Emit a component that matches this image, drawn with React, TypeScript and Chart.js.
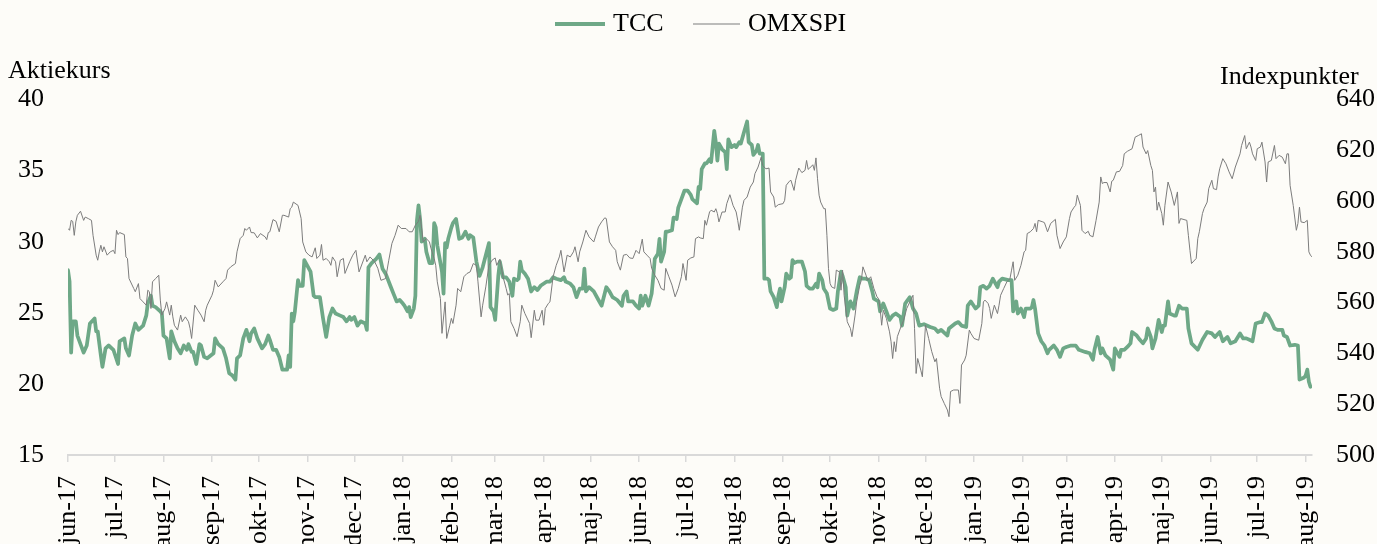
import React, { useEffect, useRef } from "react";
import { Chart, registerables } from "chart.js";

Chart.register(...registerables);

// x-axis month tick labels (first tick = 1 June 2017)
const monthLabels = [
  "jun-17", "jul-17", "aug-17", "sep-17", "okt-17", "nov-17", "dec-17",
  "jan-18", "feb-18", "mar-18", "apr-18", "maj-18", "jun-18", "jul-18",
  "aug-18", "sep-18", "okt-18", "nov-18", "dec-18", "jan-19", "feb-19",
  "mar-19", "apr-19", "maj-19", "jun-19", "jul-19", "aug-19",
];

// TCC share price – days since 2017-06-01
const tccDay = [
  0, 1, 2, 3, 5, 6, 10, 12, 14, 17,
  18, 19, 21, 22, 24, 26, 29, 32, 33, 36,
  37, 39, 41, 43, 45, 48, 50, 51, 53, 54,
  56, 59, 60, 61, 63, 65, 66, 68, 70, 72,
  74, 76, 77, 79, 80, 82, 84, 85, 87, 89,
  93, 94, 96, 99, 101, 103, 105, 107, 108, 110,
  112, 114, 116, 117, 119, 121, 124, 126, 128, 129,
  131, 133, 135, 137, 140, 141, 142, 143, 144, 145,
  147, 148, 150, 151, 153, 155, 157, 158, 161, 163,
  165, 167, 169, 171, 174, 176, 178, 180, 181, 183,
  185, 187, 190, 191, 192, 194, 197, 199, 201, 203,
  206, 208, 210, 212, 214, 215, 217, 218, 219, 221,
  222, 223, 224, 225, 226, 228, 229, 231, 233, 234,
  235, 236, 239, 240, 241, 242, 243, 245, 246, 248,
  250, 252, 254, 256, 257, 259, 261, 263, 265, 267,
  269, 270, 272, 273, 275, 276, 278, 280, 282, 284,
  285, 287, 288, 289, 290, 292, 294, 296, 298, 300,
  302, 306, 308, 310, 312, 315, 317, 318, 321, 323,
  325, 327, 329, 330, 331, 333, 336, 339, 341, 344,
  346, 348, 351, 354, 355, 357, 358, 361, 363, 365,
  366, 367, 369, 371, 373, 374, 375, 377, 378, 379,
  381, 382, 383, 386, 387, 389, 390, 392, 394, 396,
  398, 399, 402, 403, 404, 405, 407, 408, 410, 411,
  413, 414, 415, 416, 418, 420, 421, 422, 424, 426,
  427, 429, 430, 432, 434, 435, 437, 438, 440, 441,
  442, 444, 445, 447, 448, 449, 451, 453, 454, 455,
  456, 458, 459, 461, 462, 463, 464, 466, 469, 471,
  472, 474, 476, 478, 479, 480, 482, 483, 485, 487,
  489, 491, 492, 494, 495, 497, 498, 500, 502, 504,
  506, 508, 510, 512, 514, 515, 518, 519, 521, 523,
  525, 527, 529, 532, 533, 535, 536, 538, 540, 542,
  544, 547, 551, 554, 556, 558, 562, 563, 567, 569,
  571, 574, 575, 577, 580, 582, 583, 585, 587, 589,
  591, 594, 595, 597, 601, 603, 604, 606, 607, 609,
  611, 612, 615, 616, 617, 618, 620, 622, 624, 626,
  627, 630, 632, 634, 636, 638, 641, 644, 646, 650,
  653, 655, 656, 658, 660, 661, 663, 666, 668, 669,
  672, 673, 675, 677, 679, 680, 683, 685, 687, 689,
  690, 692, 693, 695, 697, 699, 700, 701, 703, 704,
  707, 708, 710, 712, 715, 716, 718, 722, 725, 728,
  731, 733, 736, 738, 741, 743, 746, 749, 751, 753,
  755, 757, 759, 762, 763, 765, 767, 769, 771, 773,
  776, 777, 779, 781, 784, 786, 787, 790, 791, 792,
  793, 794,
];
const tccValue = [
  28.0, 27.2, 22.2, 24.4, 24.4, 23.4, 22.2, 22.7, 24.25, 24.6,
  23.7, 23.7, 22.0, 21.2, 22.5, 22.7, 22.4, 21.4, 23.0, 23.2,
  22.5, 22.0, 23.4, 24.25, 23.8, 24.1, 24.8, 25.65, 26.2, 25.5,
  25.4, 25.1, 24.95, 23.4, 23.2, 21.8, 23.7, 23.0, 22.5, 22.15,
  22.7, 22.4, 22.8, 22.25, 22.25, 21.4, 22.8, 22.7, 21.9, 21.8,
  22.15, 23.2, 22.8, 22.5, 21.8, 20.75, 20.6, 20.3, 21.8, 22.0,
  23.2, 23.8, 23.0, 23.55, 23.9, 23.2, 22.5, 22.8, 23.4, 23.1,
  22.4, 22.4, 21.9, 21.0, 21.0, 22.0, 21.2, 24.95, 24.4, 25.1,
  27.3, 26.9, 26.9, 28.7, 28.3, 27.9, 26.2, 26.1, 26.1, 24.6,
  23.3, 24.7, 25.3, 24.95, 24.8, 24.7, 24.4, 24.7, 24.5, 24.7,
  24.1, 24.4, 24.25, 23.8, 28.2, 28.5, 28.8, 29.1, 28.1, 27.75,
  26.9, 26.35, 25.8, 25.9, 25.65, 25.5, 25.1, 25.4, 24.7, 25.3,
  26.2, 31.5, 32.55, 31.6, 30.0, 30.2, 29.3, 28.5, 28.5, 31.3,
  31.0, 29.75, 27.9, 26.35, 29.9, 29.6, 30.2, 31.0, 31.3, 31.6,
  30.2, 30.3, 30.7, 30.2, 30.45, 30.3, 28.6, 27.6, 28.2, 29.05,
  29.9, 25.4, 25.1, 24.5, 27.6, 28.6, 27.5, 27.5, 27.2, 26.2,
  27.4, 27.3, 27.4, 28.6, 28.0, 27.75, 27.4, 26.5, 26.8, 26.6,
  26.9, 27.2, 27.2, 27.5, 27.4, 27.3, 27.5, 27.2, 27.05, 26.8,
  26.1, 26.7, 26.7, 28.1, 26.5, 26.8, 26.5, 25.9, 25.5, 26.8,
  26.5, 26.1, 25.9, 25.5, 26.2, 26.5, 25.8, 25.8, 25.5, 25.3,
  26.2, 25.5, 26.2, 25.5, 26.35, 27.5, 28.8, 29.15, 30.2, 28.6,
  29.3, 30.7, 30.7, 30.8, 31.7, 31.6, 32.4, 33.0, 33.6, 33.6,
  33.3, 33.0, 32.7, 33.85, 33.7, 35.1, 35.5, 35.5, 35.8, 35.6,
  37.8, 37.0, 35.7, 36.9, 36.5, 36.3, 35.1, 37.2, 36.65, 36.8,
  36.65, 37.0, 36.9, 37.7, 38.45, 37.0, 36.8, 36.1, 36.4, 36.8,
  36.2, 36.2, 27.4, 27.4, 27.3, 26.5, 26.1, 25.4, 26.2, 26.7,
  25.8, 26.8, 27.75, 27.4, 27.5, 28.7, 28.5, 28.6, 28.6, 27.9,
  26.9, 26.7, 26.7, 27.05, 26.8, 27.75, 27.3, 26.7, 26.35, 25.3,
  25.2, 25.3, 26.5, 27.9, 27.6, 26.8, 24.8, 25.8, 25.3, 26.5,
  27.5, 27.4, 27.4, 27.3, 26.5, 26.0, 25.8, 25.1, 25.65, 25.1,
  24.5, 24.8, 24.95, 24.7, 24.1, 25.65, 25.8, 26.1, 25.3, 24.95,
  24.1, 24.2, 24.0, 23.9, 23.65, 23.8, 23.4, 23.9, 24.25, 24.35,
  24.1, 24.0, 25.5, 25.8, 25.3, 25.5, 26.8, 26.9, 26.7, 26.9,
  27.4, 26.8, 27.2, 27.4, 27.3, 27.3, 25.1, 25.8, 24.95, 25.3,
  24.7, 25.3, 25.3, 25.4, 25.9, 25.3, 23.55, 23.0, 22.7, 22.15,
  22.4, 22.7, 22.4, 21.9, 22.5, 22.6, 22.7, 22.7, 22.4, 22.25,
  22.15, 21.7, 22.4, 23.3, 22.15, 22.5, 22.0, 21.7, 21.0, 22.5,
  21.9, 22.4, 22.4, 22.6, 22.85, 23.65, 23.4, 23.1, 22.85, 23.2,
  23.9, 23.3, 22.5, 23.2, 24.5, 23.65, 24.1, 24.1, 25.8, 24.95,
  24.8, 24.8, 25.5, 25.3, 25.3, 23.9, 22.85, 22.4, 23.1, 23.65,
  23.55, 23.3, 23.65, 23.0, 23.3, 22.85, 23.0, 23.55, 23.2, 23.2,
  23.1, 23.0, 24.25, 24.35, 24.35, 24.95, 24.8, 24.4, 23.9, 23.8,
  23.8, 23.4, 23.3, 22.7, 22.75, 22.7, 20.3, 20.45, 20.6, 21.0,
  20.15, 19.8,
];

// OMXSPI index – days since 2017-06-01
const omxDay = [
  0, 1, 2, 3, 4, 5, 6, 8, 10, 11,
  13, 15, 16, 18, 19, 20, 21, 22, 23, 25,
  27, 29, 30, 31, 32, 33, 36, 37, 38, 39,
  42, 43, 45, 46, 48, 50, 51, 52, 53, 54,
  56, 58, 59, 60, 62, 63, 65, 66, 67, 68,
  70, 72, 73, 75, 77, 78, 79, 81, 83, 85,
  87, 88, 89, 92, 93, 94, 96, 99, 101, 102,
  104, 107, 108, 110, 112, 113, 114, 116, 117, 119,
  121, 123, 126, 127, 128, 129, 131, 133, 135, 137,
  138, 141, 142, 143, 144, 147, 149, 150, 152, 154,
  156, 158, 159, 161, 162, 163, 165, 167, 168, 169,
  171, 172, 174, 176, 177, 180, 182, 184, 186, 190,
  191, 193, 196, 198, 200, 203, 205, 207, 209, 211,
  213, 216, 218, 220, 222, 224, 225, 226, 227, 229,
  231, 232, 234, 235, 236, 238, 239, 241, 242, 244,
  245, 246, 248, 249, 251, 253, 255, 257, 259, 261,
  262, 264, 265, 267, 269, 271, 273, 274, 276, 278,
  280, 281, 282, 283, 285, 287, 289, 290, 292, 295,
  296, 298, 299, 301, 303, 304, 305, 307, 308, 310,
  312, 314, 315, 317, 319, 321, 323, 324, 326, 327,
  329, 331, 333, 336, 337, 339, 341, 343, 344, 346,
  348, 350, 351, 353, 355, 357, 359, 361, 363, 365,
  367, 368, 370, 372, 373, 375, 377, 379, 381, 382,
  384, 386, 388, 390, 392, 393, 395, 396, 398, 400,
  401, 403, 404, 406, 407, 408, 410, 411, 413, 414,
  415, 416, 418, 420, 421, 423, 425, 427, 428, 429,
  431, 432, 434, 436, 438, 439, 441, 443, 444, 446,
  448, 449, 451, 452, 454, 457, 458, 459, 461, 462,
  464, 465, 467, 468, 469, 471, 472, 473, 474, 476,
  477, 478, 479, 480, 481, 483, 484, 485, 486, 487,
  488, 490, 491, 493, 494, 495, 496, 498, 499, 500,
  501, 503, 504, 506, 507, 508, 510, 511, 513, 515,
  517, 518, 519, 520, 521, 523, 525, 526, 527, 528,
  529, 530, 532, 534, 536, 538, 540, 541, 542, 543,
  545, 546, 548, 550, 552, 554, 555, 557, 558, 560,
  562, 563, 564, 566, 569, 570, 571, 573, 574, 576,
  577, 579, 582, 584, 585, 586, 588, 589, 590, 592,
  594, 595, 596, 598, 600, 602, 603, 604, 605, 607,
  609, 611, 612, 613, 615, 617, 618, 619, 620, 623,
  624, 626, 628, 631, 632, 634, 636, 638, 640, 641,
  643, 644, 645, 647, 648, 650, 652, 653, 655, 657,
  659, 660, 661, 662, 664, 666, 667, 668, 670, 672,
  674, 675, 677, 680, 682, 684, 686, 687, 689, 690,
  692, 693, 694, 695, 696, 697, 699, 700, 701, 703,
  705, 707, 709, 710, 711, 715, 716, 717, 718, 721,
  722, 723, 725, 726, 728, 729, 731, 732, 734, 735,
  736, 738, 740, 742, 744, 746, 749, 750, 752, 753,
  755, 756, 757, 759, 760, 762, 763, 765, 766, 767,
  769, 771, 772, 774, 776, 778, 779, 780, 781, 783,
  785, 786, 787, 788, 790, 792, 793, 794, 795,
];
const omxValue = [
  589.2, 588.5, 592.4, 592, 586.5, 591.8, 594.4, 596, 592.4, 593.7,
  593.1, 592.4, 586.5, 578.7, 576.7, 580, 582.6, 580, 582, 578.7,
  580, 580.6, 579.3, 588.5, 586.8, 587.6, 586.8, 578, 577.4, 569.5,
  565.6, 564.3, 567.5, 561.6, 560.3, 559, 564.9, 564.3, 557.7, 568.2,
  569.5, 570.8, 561, 555.1, 557.7, 560.3, 555.1, 559, 554.4, 551.1,
  549.2, 555.1, 552.5, 554.4, 552.5, 549.9, 545.9, 559, 557, 555.1,
  552.5, 557, 559, 562.9, 564.9, 568.8, 566.2, 568.2, 569.5, 572.8,
  574.1, 575.4, 580, 585.2, 586.5, 589.2, 588.5, 589.8, 587.6, 587.5,
  585.5, 587.2, 585.9, 584.8, 587.6, 587.9, 592.7, 592, 587.9, 594.4,
  594.4, 593.7, 597, 597.6, 599.6, 598.3, 593.1, 583.9, 580, 578.7,
  578, 581.6, 577.4, 578.7, 582.9, 576.7, 577.4, 576.1, 574.7, 578,
  576.1, 570.2, 576.7, 577.4, 571.5, 576.1, 578.7, 580.6, 572.1, 578.7,
  576.1, 578, 576.1, 573.5, 568.8, 569.5, 576.7, 583.3, 586.5, 590.5,
  589.2, 589.2, 587.9, 587.9, 590.5, 592, 594.4, 589.2, 583.9, 585.2,
  583.9, 581.3, 577.4, 574.7, 568.2, 561.6, 547.9, 560.3, 545.9, 551.1,
  553.8, 551.8, 559, 565.6, 564.3, 570.2, 571.5, 572.1, 575.4, 574.7,
  568.2, 554.4, 559, 566.2, 574.7, 576.7, 577.6, 574.7, 577.1, 570.2,
  565.6, 563, 563.6, 552.5, 549.9, 546.6, 552.5, 559, 555.7, 551.8,
  546.2, 557, 553.1, 553.1, 557, 551.1, 557.7, 559.7, 560.3, 570.2,
  574.7, 578, 580.6, 572.1, 578.7, 578, 580, 582, 576.1, 580,
  583.9, 588.5, 585.9, 583.9, 585.9, 589.8, 591.8, 593.4, 593.1, 583.9,
  582, 580.6, 576.1, 572.8, 578.7, 579, 577.6, 577.4, 580.6, 579.3,
  585, 580, 578.7, 577.4, 573.5, 570.8, 568.8, 565.6, 564.9, 573.5,
  570.2, 566.9, 562.3, 565.6, 570.2, 575.4, 568.8, 576.7, 577.6, 578,
  585.2, 585.9, 585.5, 585.2, 592.4, 590.5, 595.7, 596.4, 595.7, 597,
  595.1, 591.8, 595.7, 595.7, 599, 602.5, 598.3, 595.7, 592.4, 588.5,
  597.6, 600.3, 601.6, 605.5, 607.5, 610.8, 613.4, 617.3, 614, 612.7,
  613, 603.6, 601.6, 597.6, 598.6, 599, 600.3, 606.2, 607.8, 608.2,
  604.2, 608.2, 613, 612.1, 611.2, 612.1, 616, 612.5, 613, 614.3,
  612.1, 617, 608.8, 602.3, 599.6, 597, 597, 586.5, 573.5, 567.6,
  566.2, 565.6, 572.8, 572.1, 564.9, 572.8, 562.9, 552.5, 551.1, 549.9,
  546.6, 555.1, 560.3, 566.9, 568.8, 574.1, 570.8, 568.8, 570.2, 565.6,
  562.3, 561.6, 557.7, 551.1, 557, 553.8, 548.5, 544.6, 538, 544.6,
  540.7, 546.6, 550, 553, 557.7, 560.3, 562.9, 549.9, 532.1, 538,
  533.4, 530.8, 551.1, 545.9, 540.7, 536.7, 538, 526.3, 523, 520.3,
  517.7, 515.1, 525, 525.6, 525.6, 520.3, 535.4, 537.4, 539.3, 549.2,
  547.9, 545.9, 545.2, 551.8, 560.3, 561, 559.7, 557.7, 553.8, 559,
  555.7, 559, 562.9, 565.6, 568.2, 569.5, 572.8, 576.1, 568.8, 570.8,
  574.7, 580, 580.6, 587.2, 587.9, 589.2, 591.2, 587.9, 592.4, 591.8,
  591.5, 587.9, 591.2, 592.8, 586.5, 581.3, 583.9, 585.9, 593.1, 595.7,
  597.6, 598.3, 602.3, 598.3, 588.5, 587.2, 588.1, 586.5, 585.9, 592.4,
  599.6, 609.5, 606.9, 607.3, 607.3, 603.6, 607.8, 608.2, 611.5, 611.7,
  614, 618.6, 619.6, 620.6, 625.2, 625.8, 626.5, 621.3, 618.6, 619.9,
  614, 612.1, 603.6, 605.5, 596.4, 599.6, 595.1, 590.5, 598.3, 607.5,
  603.6, 598.3, 603.6, 591.2, 593.1, 592.4, 586.5, 580.6, 575.4, 577.4,
  585.2, 587.9, 595.1, 597, 599.6, 604.9, 608.2, 604.9, 604.5, 609.5,
  612.7, 616.7, 614.7, 611.5, 608.8, 613.4, 618.6, 621.9, 625.8, 620.6,
  623.2, 621.3, 618.6, 616, 620.6, 621.3, 623.2, 615.4, 607.5, 615.4,
  616, 621.9, 616.7, 618, 617.3, 614.7, 618.6, 618.6, 606.2, 598.3,
  588.5, 591.2, 597.6, 591.8, 591.5, 592.4, 580, 578.7, 578,
];

const SERIF = "'Liberation Serif', 'Times New Roman', Times, serif";
const BG = "#fdfcf8";
const GREEN = "#6ea887";
const GREY = "#7c7c7c";

export default function App() {
  const ref = useRef<HTMLCanvasElement | null>(null);

  useEffect(() => {
    if (!ref.current) return;
    const start = Date.UTC(2017, 5, 1);
    const tickDays = monthLabels.map((_, i) => {
      const m = 5 + i;
      return Math.round((Date.UTC(2017 + Math.floor(m / 12), m % 12, 1) - start) / 86400000);
    });
    const labelByDay = new Map<number, string>();
    tickDays.forEach((d, i) => labelByDay.set(d, monthLabels[i]));

    const bgPlugin = {
      id: "bg",
      beforeDraw(chart: any) {
        const { ctx, width, height } = chart;
        ctx.save();
        ctx.fillStyle = BG;
        ctx.fillRect(0, 0, width, height);
        ctx.restore();
      },
    };

    const overlay = {
      id: "overlay",
      afterDraw(chart: any) {
        const ctx = chart.ctx as CanvasRenderingContext2D;
        ctx.save();
        ctx.font = `26px ${SERIF}`;
        ctx.fillStyle = "#000";
        // legend
        const ly = 24;
        ctx.lineCap = "butt";
        ctx.strokeStyle = GREEN;
        ctx.lineWidth = 4;
        ctx.beginPath();
        ctx.moveTo(555, ly);
        ctx.lineTo(605, ly);
        ctx.stroke();
        ctx.strokeStyle = GREY;
        ctx.lineWidth = 1.2;
        ctx.beginPath();
        ctx.moveTo(693, ly);
        ctx.lineTo(740, ly);
        ctx.stroke();
        ctx.textBaseline = "middle";
        ctx.textAlign = "left";
        ctx.fillText(chart.data.datasets[0].label, 613, ly);
        ctx.fillText(chart.data.datasets[1].label, 748, ly);
        // axis titles
        ctx.textBaseline = "alphabetic";
        ctx.fillText("Aktiekurs", 8, 78);
        ctx.fillText("Indexpunkter", 1220, 84);
        ctx.restore();
      },
    };

    const chart = new Chart(ref.current, {
      type: "line",
      data: {
        datasets: [
          {
            label: "TCC",
            data: tccDay.map((d, i) => ({ x: d, y: tccValue[i] })),
            yAxisID: "y",
            borderColor: GREEN,
            backgroundColor: GREEN,
            borderWidth: 3.75,
            pointRadius: 0,
            tension: 0,
            borderJoinStyle: "round",
            borderCapStyle: "round",
            order: 1,
          },
          {
            label: "OMXSPI",
            data: omxDay.map((d, i) => ({ x: d, y: omxValue[i] })),
            yAxisID: "y1",
            borderColor: GREY,
            backgroundColor: GREY,
            borderWidth: 1,
            pointRadius: 0,
            tension: 0,
            order: 0,
          },
        ],
      },
      options: {
        animation: false,
        responsive: false,
        devicePixelRatio: 1,
        layout: { padding: { top: 99.5, left: 0, right: 0, bottom: 0 } },
        plugins: { legend: { display: false }, tooltip: { enabled: false } },
        scales: {
          x: {
            type: "linear",
            min: 0,
            max: 795,
            afterBuildTicks: (s: any) => {
              s.ticks = tickDays.map((v) => ({ value: v }));
            },
            afterFit: (s: any) => {
              s.height = 89;
            },
            ticks: {
              autoSkip: false,
              maxRotation: 90,
              minRotation: 90,
              padding: 14,
              color: "#000",
              font: { family: SERIF, size: 26 },
              callback: (v: any) => labelByDay.get(Number(v)) ?? "",
            },
            grid: {
              drawOnChartArea: false,
              drawTicks: true,
              tickLength: 7,
              color: "#d9d9d9",
              lineWidth: 1.5,
            },
            border: { display: true, color: "#d9d9d9", width: 2 },
          },
          y: {
            position: "left",
            min: 15,
            max: 40,
            afterFit: (s: any) => {
              s.width = 68;
            },
            ticks: {
              stepSize: 5,
              padding: 24,
              color: "#000",
              font: { family: SERIF, size: 26 },
            },
            grid: { display: false, drawTicks: false },
            border: { display: false },
          },
          y1: {
            position: "right",
            min: 500,
            max: 640,
            afterFit: (s: any) => {
              s.width = 65;
            },
            ticks: {
              stepSize: 20,
              padding: 24,
              color: "#000",
              font: { family: SERIF, size: 26 },
            },
            grid: { display: false, drawTicks: false },
            border: { display: false },
          },
        },
      },
      plugins: [bgPlugin, overlay],
    } as any);

    return () => chart.destroy();
  }, []);

  return (
    <div
      style={{
        position: "fixed",
        left: 0,
        top: 0,
        width: 1377,
        height: 544,
        background: BG,
        overflow: "hidden",
      }}
    >
      <canvas ref={ref} width={1377} height={544} style={{ display: "block" }} />
    </div>
  );
}
